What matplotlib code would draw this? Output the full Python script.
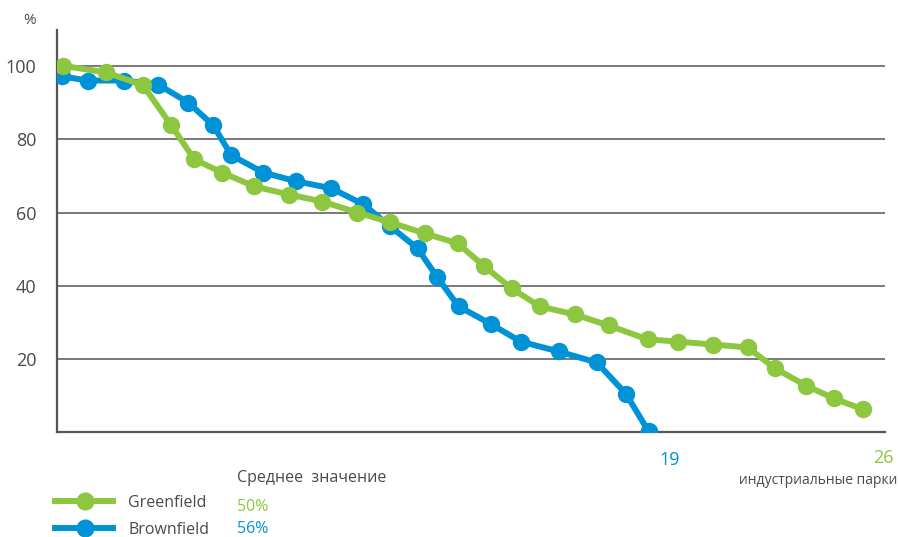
import matplotlib
matplotlib.use("Agg")
import matplotlib.pyplot as plt

# data (x = park position, y = %)
green_x = [1.0, 2.35, 3.5, 4.38, 5.1, 5.97, 6.98, 8.07, 9.1, 10.2, 11.23, 12.3, 13.33,
           14.17, 15.02, 15.9, 16.99, 18.05, 19.27, 20.21, 21.31, 22.4, 23.25, 24.22, 25.09, 26.0]
green_y = [100, 98.2, 94.7, 83.8, 74.5, 70.9, 67.1, 64.9, 63.0, 60.0, 57.3, 54.3, 51.6,
           45.3, 39.3, 34.4, 32.2, 29.2, 25.4, 24.8, 24.0, 23.2, 17.5, 12.8, 9.3, 6.3]
blue_x = [0.97, 1.78, 2.91, 3.97, 4.91, 5.69, 6.26, 7.26, 8.29, 9.39, 10.39, 11.23, 12.08,
          12.7, 13.36, 14.39, 15.3, 16.49, 17.68, 18.59, 19.3]
blue_y = [97.1, 96.0, 96.0, 94.9, 90.0, 83.8, 75.6, 70.9, 68.5, 66.6, 62.2, 56.2, 50.2,
          42.3, 34.4, 29.5, 24.8, 22.1, 19.1, 10.6, 0.3]
yticks = [20, 40, 60, 80, 100]
series_names = ["Greenfield", "Brownfield"]
averages = ["50%", "56%"]
counts = ["26", "19"]

GREEN = "#8dc63f"
BLUE = "#0092d6"
TXT = "#4a4a4a"
plt.rcParams['font.family'] = ['Open Sans', 'DejaVu Sans']

fig = plt.figure(figsize=(8.99, 5.37), dpi=100)
ax = fig.add_axes([0.0634, 0.1946, 0.921, 0.749])

for y in yticks:
    ax.axhline(y, color="#6e6e6e", lw=1.3, zorder=1)

ax.plot(blue_x, blue_y, color=BLUE, lw=4.3, marker="o", ms=11.5, zorder=3)
ax.plot(green_x, green_y, color=GREEN, lw=4.3, marker="o", ms=11.5, zorder=4)

ax.set_xlim(0.81, 26.69)
ax.set_ylim(0, 109.7)
ax.set_yticks(yticks)
ax.set_xticks([])
ax.tick_params(axis="y", length=0, pad=15, labelsize=13, labelcolor=TXT)
for s in ["top", "right"]:
    ax.spines[s].set_visible(False)
for s in ["left", "bottom"]:
    ax.spines[s].set_color("#555555")
    ax.spines[s].set_linewidth(1.6)

fig.text(30 / 899, 1 - 21 / 537, "%", fontsize=11, color=TXT, ha="center", va="center")

# end labels
fig.text(670 / 899, 1 - 460 / 537, counts[1], fontsize=13, color=BLUE, ha="center", va="center")
fig.text(883 / 899, 1 - 458 / 537, counts[0], fontsize=13, color=GREEN, ha="center", va="center")
fig.text(897 / 899, 1 - 480 / 537, "индустриальные парки", fontsize=10, color=TXT,
         ha="right", va="center")

# legend block
fig.text(237 / 899, 1 - 478 / 537, "Среднее  значение", fontsize=11.5, color=TXT,
         ha="left", va="center")
for i, (name, avg, col) in enumerate(zip(series_names, averages, [GREEN, BLUE])):
    yy = 1 - (501 + 27 * i) / 537
    fig.add_artist(plt.Line2D([55 / 899, 113 / 899], [yy, yy], color=col, lw=4.3))
    fig.add_artist(plt.Line2D([85 / 899], [yy], color=col, marker="o", ms=12))
    fig.text(128 / 899, yy - 2 / 537, name, fontsize=11.5, color=TXT, ha="left", va="center")
    fig.text(237 / 899, yy - (6 - 5 * i) / 537, avg, fontsize=11.5, color=col,
             ha="left", va="center")

fig.savefig("out.png", dpi=100)
